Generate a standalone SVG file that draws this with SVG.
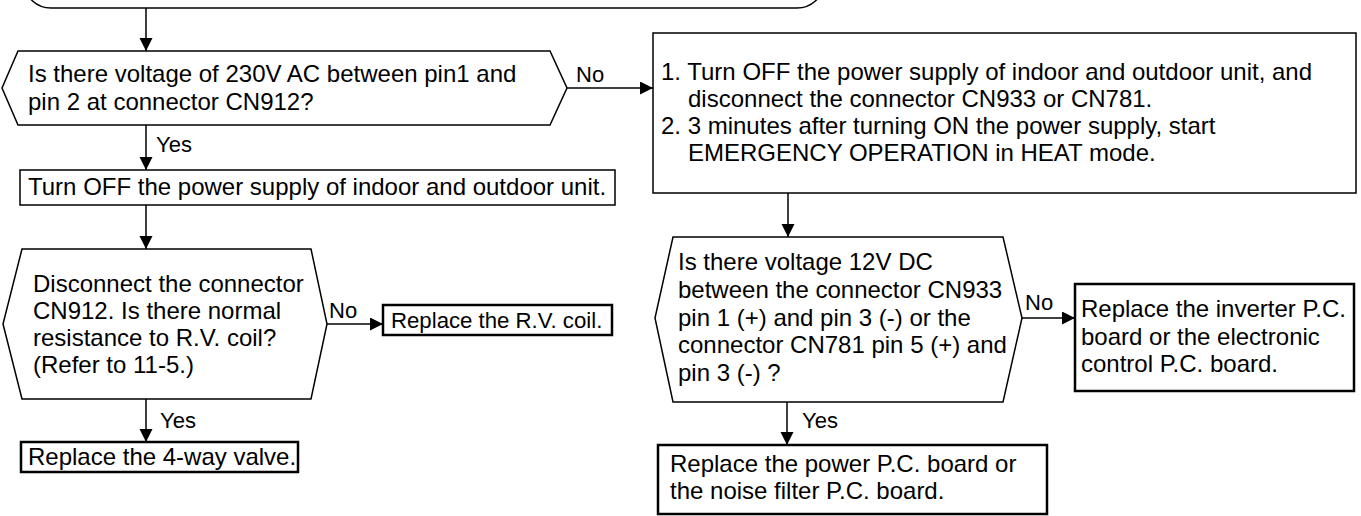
<svg xmlns="http://www.w3.org/2000/svg" width="1361" height="516" viewBox="0 0 1361 516">
<defs>
<marker id="ah" markerUnits="userSpaceOnUse" markerWidth="14" markerHeight="14" refX="13" refY="6.5" orient="auto">
<path d="M0,0 L13,6.5 L0,13 z" fill="#000"/>
</marker>
<style>
.s{fill:#fff;stroke:#000;stroke-width:1.5}
.b{fill:#fff;stroke:#000;stroke-width:2.5}
.t{font-family:"Liberation Sans",Arial,sans-serif;font-size:24px;fill:#000}
.l{font-family:"Liberation Sans",Arial,sans-serif;font-size:22px;fill:#000}
.c{fill:none;stroke:#000;stroke-width:1.5;marker-end:url(#ah)}
</style>
</defs>
<rect width="1361" height="516" fill="#fff"/>
<g id="start">
<rect class="s" x="25" y="-40" width="798" height="48" rx="26" ry="26"/>
</g>
<g id="q1">
<polygon class="s" points="18,51 550,51 567,88 550,125 18,125 2,88"/>
<text class="t" x="28" y="82">Is there voltage of 230V AC between pin1 and</text>
<text class="t" x="28" y="110">pin 2 at connector CN912?</text>
</g>
<g id="turnoff">
<rect class="s" x="20" y="170" width="595" height="35"/>
<text class="t" x="28" y="195">Turn OFF the power supply of indoor and outdoor unit.</text>
</g>
<g id="q2">
<polygon class="s" points="22,249 311,249 327,324 311,399 22,399 3,324"/>
<text class="t" x="33" y="292">Disconnect the connector</text>
<text class="t" x="33" y="319">CN912. Is there normal</text>
<text class="t" x="33" y="346">resistance to R.V. coil?</text>
<text class="t" x="33" y="373">(Refer to 11-5.)</text>
</g>
<g id="rvcoil">
<rect class="b" x="383" y="305" width="229" height="30"/>
<text class="t" x="391" y="328" style="font-size:22.2px">Replace the R.V. coil.</text>
</g>
<g id="valve">
<rect class="b" x="21" y="442" width="277" height="30"/>
<text class="t" x="28" y="465">Replace the 4-way valve.</text>
</g>
<g id="steps">
<rect class="s" x="653" y="33" width="703" height="160"/>
<text class="t" x="661" y="80">1. Turn OFF the power supply of indoor and outdoor unit, and</text>
<text class="t" x="688" y="107">disconnect the connector CN933 or CN781.</text>
<text class="t" x="661" y="134">2. 3 minutes after turning ON the power supply, start</text>
<text class="t" x="688" y="161">EMERGENCY OPERATION in HEAT mode.</text>
</g>
<g id="q3">
<polygon class="s" points="673,237 1003,237 1022,318 1003,402 673,402 655,318"/>
<text class="t" x="678" y="270">Is there voltage 12V DC</text>
<text class="t" x="678" y="298">between the connector CN933</text>
<text class="t" x="678" y="326">pin 1 (+) and pin 3 (-) or the</text>
<text class="t" x="678" y="353">connector CN781 pin 5 (+) and</text>
<text class="t" x="678" y="381">pin 3 (-) ?</text>
</g>
<g id="inverter">
<rect class="b" x="1075" y="284" width="279" height="107"/>
<text class="t" x="1081" y="317">Replace the inverter P.C.</text>
<text class="t" x="1081" y="345">board or the electronic</text>
<text class="t" x="1081" y="372">control P.C. board.</text>
</g>
<g id="power">
<rect class="b" x="658" y="445" width="389" height="69"/>
<text class="t" x="670" y="472">Replace the power P.C. board or</text>
<text class="t" x="670" y="499">the noise filter P.C. board.</text>
</g>
<g id="connectors">
<line class="c" x1="146" y1="8" x2="146" y2="51"/>
<line class="c" x1="146" y1="125" x2="146" y2="170"/>
<line class="c" x1="146" y1="205" x2="146" y2="249"/>
<line class="c" x1="146" y1="399" x2="146" y2="442"/>
<line class="c" x1="327" y1="324" x2="383" y2="324"/>
<line class="c" x1="567" y1="88" x2="653" y2="88"/>
<line class="c" x1="788" y1="193" x2="788" y2="237"/>
<line class="c" x1="1022" y1="318" x2="1075" y2="318"/>
<line class="c" x1="787" y1="402" x2="787" y2="445"/>
<text class="l" x="156" y="152">Yes</text>
<text class="l" x="576" y="82">No</text>
<text class="l" x="329" y="318">No</text>
<text class="l" x="160" y="428">Yes</text>
<text class="l" x="1025" y="310">No</text>
<text class="l" x="802" y="428">Yes</text>
</g>
</svg>
